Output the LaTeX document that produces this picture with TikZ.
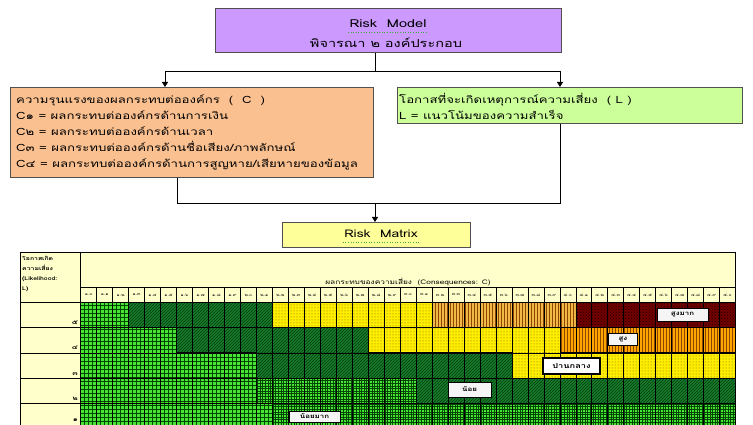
\documentclass[tikz,border=0pt]{standalone}
\usepackage{fontspec}
\setmainfont[Script=Thai,FakeStretch=1.32]{Loma}
\usetikzlibrary{patterns,arrows.meta}
\newcommand\thd[1]{\ifcase#1 ๐\or ๑\or ๒\or ๓\or ๔\or ๕\or ๖\or ๗\or ๘\or ๙\fi}
\pgfdeclarepatternformonly{cgrid}{\pgfqpoint{-1pt}{-1pt}}{\pgfqpoint{5pt}{5pt}}{\pgfqpoint{4pt}{4pt}}{%
  \pgfsetlinewidth{0.8pt}%
  \pgfpathmoveto{\pgfqpoint{0pt}{0pt}}\pgfpathlineto{\pgfqpoint{4.1pt}{0pt}}%
  \pgfpathmoveto{\pgfqpoint{0pt}{0pt}}\pgfpathlineto{\pgfqpoint{0pt}{4.1pt}}%
  \pgfusepath{stroke}}
\pgfdeclarepatternformonly{fgrid}{\pgfqpoint{-1pt}{-1pt}}{\pgfqpoint{3.5pt}{3.5pt}}{\pgfqpoint{2.6pt}{2.6pt}}{%
  \pgfsetlinewidth{0.6pt}%
  \pgfpathmoveto{\pgfqpoint{0pt}{0pt}}\pgfpathlineto{\pgfqpoint{2.7pt}{0pt}}%
  \pgfpathmoveto{\pgfqpoint{0pt}{0pt}}\pgfpathlineto{\pgfqpoint{0pt}{2.7pt}}%
  \pgfusepath{stroke}}
\definecolor{purplebox}{RGB}{204,153,255}
\definecolor{orangebox}{RGB}{250,192,144}
\definecolor{greenbox}{RGB}{204,255,153}
\definecolor{yellowbox}{RGB}{255,255,153}
\definecolor{paleyellow}{RGB}{255,255,204}
\definecolor{vlgreen}{RGB}{70,230,50}
\definecolor{vlline}{RGB}{0,70,0}
\definecolor{logreen}{RGB}{25,125,45}
\definecolor{loline}{RGB}{0,60,10}
\definecolor{mdyellow}{RGB}{255,238,0}
\definecolor{mdline}{RGB}{110,100,0}
\definecolor{hiA}{RGB}{240,185,70}
\definecolor{hiB}{RGB}{255,165,0}
\definecolor{hiline}{RGB}{140,70,0}
\definecolor{vhred}{RGB}{115,0,0}
\definecolor{vhline}{RGB}{30,0,0}
\definecolor{boxedge}{RGB}{80,80,80}
\definecolor{squigc}{RGB}{60,170,60}
\begin{document}
\begin{tikzpicture}[x=1pt,y=-1pt,
  box/.style={draw=boxedge,line width=0.8pt,inner sep=0pt},
  conn/.style={draw=black,line width=0.8pt},
  arr/.style={conn,-{Triangle[length=5pt,width=6pt]}},
  vl/.style={preaction={fill=vlgreen},pattern=cgrid,pattern color=vlline},
  vlf/.style={preaction={fill=vlgreen},pattern=fgrid,pattern color=vlline},
  lo/.style={preaction={fill=logreen},pattern=north east lines,pattern color=loline},
  md/.style={preaction={fill=mdyellow},pattern=dots,pattern color=mdline},
  hia/.style={preaction={fill=hiA},pattern=vertical lines,pattern color=hiline},
  hib/.style={preaction={fill=hiB},pattern=vertical lines,pattern color=hiline},
  vh/.style={preaction={fill=vhred},pattern=crosshatch dots,pattern color=vhline},
  cellline/.style={draw=black,line width=0.5pt},
  zoneline/.style={draw=black,line width=0.9pt},
  numlab/.style={font=\fontsize{3.8}{5}\selectfont,inner sep=0pt},
  lvl/.style={draw=black,line width=0.8pt,fill=white!92!gray,inner sep=1.5pt,font=\fontsize{6}{7}\selectfont\bfseries},
  squig/.style={draw=squigc,line width=0.6pt,dotted},
  boxtext/.style={anchor=north west,align=left,inner sep=0pt,font=\fontsize{10}{16}\selectfont}
]
\useasboundingbox (0,0) rectangle (753,425);
\fill[white] (0,0) rectangle (753,425);

% ---------- top boxes ----------
\node[box,fill=purplebox,minimum width=346,minimum height=44,anchor=north west] (model) at (215,8) {};
\node[font=\fontsize{11}{12}\selectfont] (modelt1) at (388,24) {Risk\ \ Model};
\draw[squig] ([xshift=2pt,yshift=-1pt]modelt1.south west) -- ([xshift=-2pt,yshift=-1pt]modelt1.south east);
\node[font=\fontsize{11}{12}\selectfont] (modelt2) at (386,43) {พิจารณา ๒ องค์ประกอบ};

\node[box,fill=orangebox,minimum width=363,minimum height=90,anchor=north west] (sev) at (10,87) {};
\node[boxtext] (sevt) at (16,95)
 {ความรุนแรงของผลกระทบต่อองค์กร\ \ (\ \ C\ \ )\\
  C๑ = ผลกระทบต่อองค์กรด้านการเงิน\\
  C๒ = ผลกระทบต่อองค์กรด้านเวลา\\
  C๓ = ผลกระทบต่อองค์กรด้านชื่อเสียง/ภาพลักษณ์\\
  C๔ = ผลกระทบต่อองค์กรด้านการสูญหาย/เสียหายของข้อมูล};

\node[box,fill=greenbox,minimum width=345,minimum height=36,anchor=north west] (lik) at (397,87) {};
\node[boxtext] (likt) at (399,93)
 {โอกาสที่จะเกิดเหตุการณ์ความเสี่ยง\ \ (\ L\ )\\
  L = แนวโน้มของความสำเร็จ};

\node[box,fill=yellowbox,minimum width=188,minimum height=25,anchor=north west] (rm) at (282,222) {};
\node[font=\fontsize{10.5}{12}\selectfont] (rmt) at (381,234) {Risk\ \ Matrix};
\draw[squig] ([xshift=2pt,yshift=-1pt]rmt.south west) -- ([xshift=-2pt,yshift=-1pt]rmt.south east);

% ---------- connectors ----------
\coordinate (mj) at (375,71);
\coordinate (busL) at (165,71);
\coordinate (busR) at (560,71);
\draw[conn] (mj |- model.south) -- (mj);
\draw[conn] (busL) -- (busR);
\draw[arr] (busL) -- (busL |- sev.north);
\draw[arr] (busR) -- (busR |- lik.north);
\coordinate (bL) at (177,203);
\coordinate (bR) at (560,203);
\coordinate (bM) at (375,203);
\draw[conn] (bL |- sev.south) -- (bL) -- (bR) -- (bR |- lik.south);
\draw[arr] (bM) -- (bM |- rm.north);

% ---------- matrix ----------
\begin{scope}
\clip (0,0) rectangle (753,425);
\fill[paleyellow] (20.7,252) rectangle (735.5,430);
\foreach \r/\a/\b/\s in {0/1/3/vl,0/4/12/lo,0/13/22/md,0/23/31/hia,0/32/41/vh,
  1/1/6/vl,1/7/18/lo,1/19/30/md,1/31/41/hib,
  2/1/11/vl,2/12/27/lo,2/28/41/md,
  3/1/11/vl,3/12/21/vlf,3/22/41/lo,
  4/1/12/vl,4/13/41/vlf}
  \path[\s] ({80.7+(\a-1)*15.97},{302.3+\r*25.3}) rectangle ({80.7+\b*15.97},{302.3+(\r+1)*25.3});
% cell lines
\foreach \k in {0,...,41}
  \draw[cellline] ({80.7+\k*15.97},287.5) -- ({80.7+\k*15.97},430);
\foreach \r in {0,...,5}
  \draw[cellline] (20.7,{302.3+\r*25.3}) -- (735.5,{302.3+\r*25.3});
\draw[cellline] (80.7,287.5) -- (735.5,287.5);
% zone outlines
\draw[zoneline] (128.6,302.3) |- (176.5,327.6) |- (256.4,352.9) |- (416.1,378.2) |- (735.5,403.5);
\draw[zoneline] (272.3,302.3) |- (368.2,327.6) |- (512.3,352.9) |- (735.5,378.2);
\draw[zoneline] (432.1,302.3) |- (560.0,327.6) |- (735.5,352.9);
\draw[zoneline] (576.0,302.3) |- (735.5,327.6);
% outer frame
\draw[line width=0.8pt] (20.7,430) |- (735.5,252) -- (735.5,430);
\draw[line width=0.8pt] (80.7,252) -- (80.7,430);
\draw[line width=0.8pt] (20.7,302.3) -- (735.5,302.3);
% numbers
\foreach \k in {0,...,40}{
  \pgfmathtruncatemacro\cip{1+floor(\k/10)}
  \pgfmathtruncatemacro\cdq{mod(\k,10)}
  \node[numlab] (n\k) at ({80.7+(\k+0.5)*15.97},295) {\thd{\cip}.\thd{\cdq}};
}
\node[font=\fontsize{6.3}{7}\selectfont,inner sep=0pt] (chead) at (408,282) {ผลกระทบของความเสี่ยง\ \ (Consequences: C)};
\node[anchor=north west,align=left,inner sep=0pt,font=\fontsize{5.2}{10}\selectfont\bfseries] (lhead) at (22,256)
  {โอกาสเกิด\\ความเสี่ยง\\(Likelihood:\\L)};
\foreach \r/\t/\yy in {0/๕/325,1/๔/350,2/๓/375.5,3/๒/400.5,4/๑/421.5}
  \node[anchor=south east,inner sep=0pt,font=\fontsize{6}{7}\selectfont\bfseries] (rl\r) at (78,\yy) {\t};
% level labels
\node[lvl,minimum width=51,minimum height=13] (vhl) at (682.5,314.5) {สูงมาก};
\node[lvl,minimum width=29,minimum height=12] (hil) at (623,339) {สูง};
\node[lvl,line width=1.2pt,fill=white,minimum width=57,minimum height=16,font=\fontsize{7}{8}\selectfont\bfseries] (mdl) at (571.5,366) {ปานกลาง};
\node[lvl,minimum width=43,minimum height=15] (lol) at (469.5,389.5) {น้อย};
\node[lvl,minimum width=51,minimum height=11] (vll) at (314.5,416.5) {น้อยมาก};
\end{scope}
\end{tikzpicture}
\end{document}
